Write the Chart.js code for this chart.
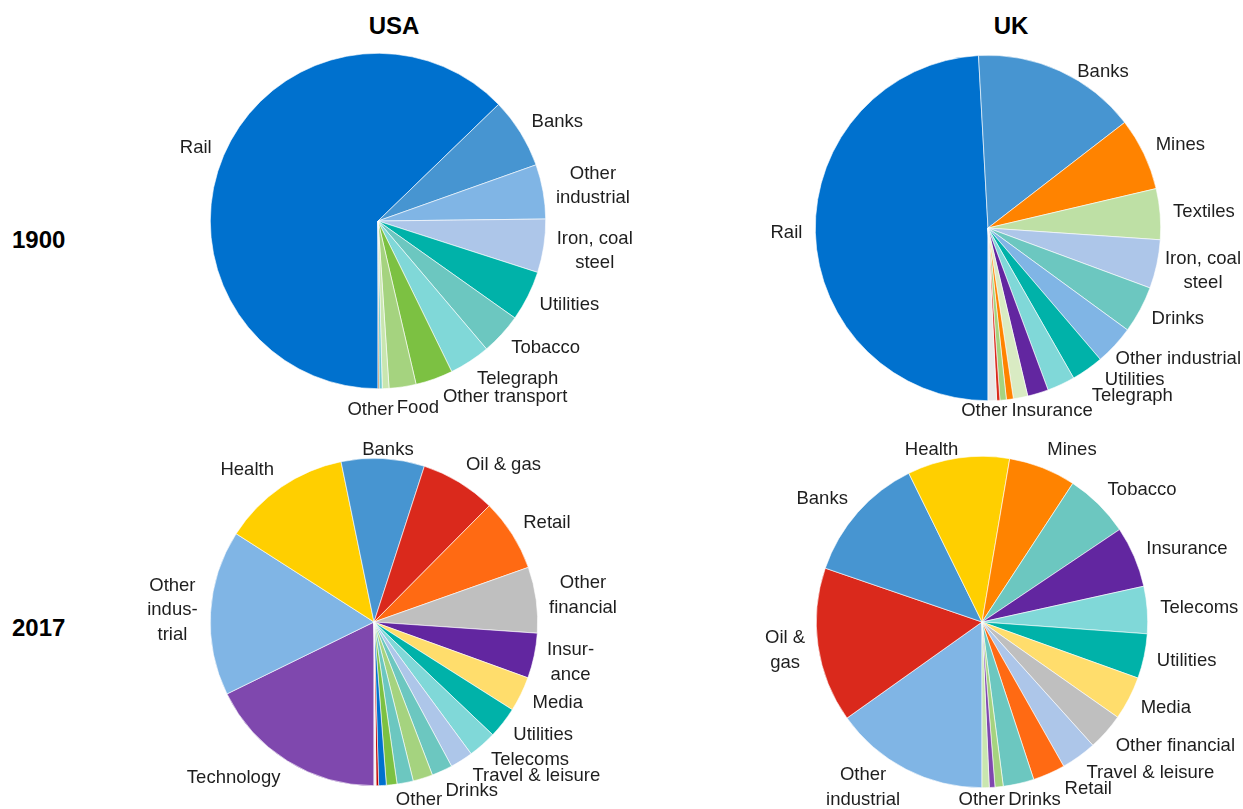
<!DOCTYPE html>
<html>
<head>
<meta charset="utf-8">
<script src="https://cdn.jsdelivr.net/npm/chart.js@4.4.1/dist/chart.umd.min.js"></script>
<style>
body { margin: 0; background: #fff; width: 1243px; height: 809px; position: relative; overflow: hidden;
       font-family: "Liberation Sans", Arial, sans-serif; }
canvas { position: absolute; }
.head { position: absolute; font-weight: bold; font-size: 24px; line-height: 28px; color: #000; }
</style>
</head>
<body>
<div class="head" style="left:294px; width:200px; top:12px; text-align:center;">USA</div>
<div class="head" style="left:911px; width:200px; top:12px; text-align:center;">UK</div>
<div class="head" style="left:12px; top:226px;">1900</div>
<div class="head" style="left:12px; top:614px;">2017</div>

<canvas id="usa1900" width="610" height="382" style="left:90px; top:38px;"></canvas>
<canvas id="uk1900" width="543" height="382" style="left:700px; top:38px;"></canvas>
<canvas id="usa2017" width="610" height="369" style="left:90px; top:440px;"></canvas>
<canvas id="uk2017" width="543" height="369" style="left:700px; top:440px;"></canvas>

<script>
// share of market value by sector, %

// USA 1900
var usa1900_sectors = ['Rail', 'Banks', ['Other', 'industrial'], ['Iron, coal', 'steel'], 'Utilities', 'Tobacco',
    'Telegraph', 'Other transport', 'Food', '', '', 'Other'];
var usa1900_values = [62.8, 6.8, 5.25, 5.15, 4.85, 4.0, 3.95, 3.6, 2.6, 0.65, 0.3, 0.1];
var usa1900_colors = ['#0071CE', '#4795D1', '#80B5E5', '#ADC6E9', '#00B2A9', '#6CC7C0',
    '#80D8D8', '#7CC142', '#A5D37F', '#C9E6B0', '#70CBD0', '#B5651D'];

// UK 1900
var uk1900_sectors = ['Rail', 'Banks', 'Mines', 'Textiles', ['Iron, coal', 'steel'], 'Drinks', 'Other industrial',
    'Utilities', 'Telegraph', 'Insurance', '', '', '', '', 'Other'];
var uk1900_values = [49.1, 15.4, 6.8, 4.75, 4.55, 4.4, 3.7, 3.0, 2.6, 1.95, 1.35, 0.65, 0.6, 0.3, 0.8];
var uk1900_colors = ['#0071CE', '#4795D1', '#FF8300', '#BEE0A5', '#ADC6E9', '#6CC7C0', '#80B5E5',
    '#00B2A9', '#80D8D8', '#6226A0', '#D9EBC3', '#FF8300', '#A5D37F', '#DA291C', '#E8E8E8'];

// USA 2017
var usa2017_sectors = ['Technology', ['Other', 'indus-', 'trial'], 'Health', 'Banks', 'Oil & gas', 'Retail',
    ['Other', 'financial'], ['Insur-', 'ance'], 'Media', 'Utilities', 'Telecoms', 'Travel & leisure', 'Drinks',
    '', 'Other', '', '', '', ''];
var usa2017_values = [17.75, 16.3, 12.7, 8.2, 7.45, 7.15, 6.5, 4.45, 3.45, 3.1, 2.8, 2.25, 2.05,
    1.95, 1.6, 1.05, 0.75, 0.25, 0.2];
var usa2017_colors = ['#7F48AE', '#80B5E5', '#FFCF00', '#4795D1', '#DA291C', '#FF6A13', '#BFBFBF',
    '#6226A0', '#FFDD6C', '#00B2A9', '#80D8D8', '#ADC6E9', '#6CC7C0', '#A5D37F', '#6CC7C0',
    '#7CC142', '#0071CE', '#C00000', '#F0F0F0'];

// UK 2017
var uk2017_sectors = [['Other', 'industrial'], ['Oil &', 'gas'], 'Banks', 'Health', 'Mines', 'Tobacco', 'Insurance',
    'Telecoms', 'Utilities', 'Media', 'Other financial', 'Travel & leisure', 'Retail', 'Drinks', '', '', 'Other'];
var uk2017_values = [15.15, 15.1, 12.45, 9.95, 6.55, 6.35, 5.95, 4.6, 4.35, 4.25, 3.6, 3.45, 3.15, 3.0,
    0.8, 0.55, 0.7];
var uk2017_colors = ['#80B5E5', '#DA291C', '#4795D1', '#FFCF00', '#FF8300', '#6CC7C0', '#6226A0',
    '#80D8D8', '#00B2A9', '#FFDD6C', '#BFBFBF', '#ADC6E9', '#FF6A13', '#6CC7C0', '#A5D37F',
    '#7F48AE', '#C9E6B0'];


var labelFont = '18.5px "Liberation Sans", Arial, sans-serif';
var lineH = 24.5;

function clampBox(k, b) {
    k.x = Math.min(Math.max(k.x, b.left + k.w / 2), b.right - k.w / 2);
    k.y = Math.min(Math.max(k.y, b.top + k.h / 2), b.bottom - k.h / 2);
}

// keep a label inside its bounds and off the pie
function placeBox(k, c, R, b) {
    clampBox(k, b);
    let nx = Math.max(k.x - k.w / 2, Math.min(c.x, k.x + k.w / 2));
    let ny = Math.max(k.y - k.h / 2, Math.min(c.y, k.y + k.h / 2));
    let d = Math.hypot(nx - c.x, ny - c.y);
    if (d >= R) return;
    if (d > 0.001) {
        k.x += (nx - c.x) / d * (R - d);
        k.y += (ny - c.y) / d * (R - d);
    }
    clampBox(k, b);
    ny = Math.max(k.y - k.h / 2, Math.min(c.y, k.y + k.h / 2));
    let dy = Math.abs(ny - c.y);
    if (dy < R) {
        let hx = Math.sqrt(R * R - dy * dy);
        if (k.x >= c.x) k.x = Math.max(k.x, c.x + hx + k.w / 2);
        else k.x = Math.min(k.x, c.x - hx - k.w / 2);
    }
    clampBox(k, b);
}

var outsideLabels = {
    id: 'outsideLabels',
    afterDatasetsDraw(chart, args, opts) {
        const ctx = chart.ctx;
        const arcs = chart.getDatasetMeta(0).data;
        const names = chart.data.labels;
        const b = opts.bounds;
        ctx.save();
        ctx.font = labelFont;
        let boxes = [];
        let c = {x: arcs[0].x, y: arcs[0].y};
        let r = arcs[0].outerRadius;
        arcs.forEach((arc, i) => {
            let name = names[i];
            if (!name || name.length === 0) return;
            let lines = Array.isArray(name) ? name : [name];
            let a = (arc.startAngle + arc.endAngle) / 2;
            let w = Math.max(...lines.map(s => ctx.measureText(s).width));
            let h = lineH * (lines.length - 1) + 15;
            let d = r + 13;
            let fx = Math.max(-1, Math.min(1, Math.cos(a) * 3));
            boxes.push({
                lines: lines, a: a, w: w, h: h,
                x: c.x + d * Math.cos(a) + fx * w / 2,
                y: c.y + (d + h / 2) * Math.sin(a)
            });
        });

        const R = r + 1;
        boxes.forEach(k => placeBox(k, c, R, b));
        for (let it = 0; it < 200; it++) {
            let any = false;
            for (let i = 0; i < boxes.length; i++) {
                for (let j = i + 1; j < boxes.length; j++) {
                    let p = boxes[i], q = boxes[j];
                    let W = (p.w + q.w) / 2 + 3, H = (p.h + q.h) / 2;
                    let dx = q.x - p.x, dy = q.y - p.y;
                    if (Math.abs(dx) >= W || Math.abs(dy) >= H) continue;
                    any = true;
                    let a = (p.a + q.a) / 2;
                    let tx = -Math.sin(a), ty = Math.cos(a);
                    if (dx * tx + dy * ty < 0) { tx = -tx; ty = -ty; }
                    let sx = tx > 1e-3 ? (W - dx) / tx : (tx < -1e-3 ? (-W - dx) / tx : Infinity);
                    let sy = ty > 1e-3 ? (H - dy) / ty : (ty < -1e-3 ? (-H - dy) / ty : Infinity);
                    let s = Math.min(sx, sy) / 2 + 0.5;
                    p.x -= tx * s; p.y -= ty * s;
                    q.x += tx * s; q.y += ty * s;
                }
            }
            boxes.forEach(k => placeBox(k, c, R, b));
            if (!any) break;
        }

        ctx.fillStyle = '#1e1e1e';
        ctx.textAlign = 'center';
        ctx.textBaseline = 'middle';
        boxes.forEach(k => {
            let y0 = k.y - (k.lines.length - 1) * lineH / 2;
            k.lines.forEach((s, n) => ctx.fillText(s, k.x, y0 + n * lineH));
        });
        ctx.restore();
    }
};

function drawPie(id, sectors, values, colors, pad, bounds) {
    new Chart(document.getElementById(id).getContext('2d'), {
        type: 'pie',
        data: {
            labels: sectors,
            datasets: [{
                data: values,
                backgroundColor: colors,
                borderColor: '#ffffff',
                borderWidth: 0.6,
                hoverOffset: 0
            }]
        },
        options: {
            responsive: false,
            animation: false,
            events: [],
            rotation: 180,
            layout: { padding: pad },
            plugins: {
                legend: { display: false },
                tooltip: { enabled: false },
                outsideLabels: { bounds: bounds }
            }
        },
        plugins: [outsideLabels]
    });
}

drawPie('usa1900', usa1900_sectors, usa1900_values, usa1900_colors,
    {left: 120, right: 154, top: 15, bottom: 31}, {left: 2, right: 608, top: 26, bottom: 380});
drawPie('uk1900', uk1900_sectors, uk1900_values, uk1900_colors,
    {left: 115, right: 82, top: 17, bottom: 19}, {left: 2, right: 541, top: 26, bottom: 380});
drawPie('usa2017', usa2017_sectors, usa2017_values, usa2017_colors,
    {left: 120, right: 162, top: 18, bottom: 23}, {left: 2, right: 608, top: 2, bottom: 367});
drawPie('uk2017', uk2017_sectors, uk2017_values, uk2017_colors,
    {left: 116, right: 95, top: 16, bottom: 21}, {left: 2, right: 541, top: 2, bottom: 367});
</script>
</body>
</html>
